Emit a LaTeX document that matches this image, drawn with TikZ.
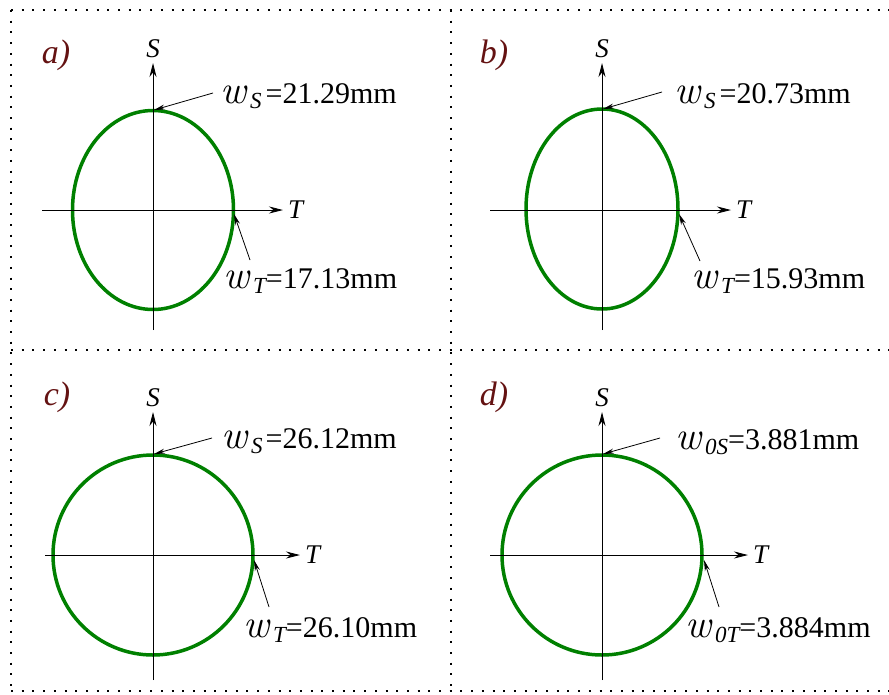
\documentclass[tikz,border=0pt]{standalone}
\usepackage{fontspec}
\setmainfont{Liberation Serif}
\usetikzlibrary{arrows.meta, positioning, calc}
\definecolor{beamgreen}{RGB}{0,128,0}
\definecolor{tagred}{RGB}{100,18,18}

\begin{document}
\begin{tikzpicture}[x=1pt, y=-1pt,
  % ---- styles ----
  frame/.style = {line width=2pt, dash pattern=on 2pt off 8.7pt},
  axis/.style = {-{Stealth[length=14pt, width=7pt]}, line width=0.9pt},
  pointer/.style = {-{Stealth[length=11pt, width=5pt]}, line width=0.8pt},
  beam/.style = {draw=beamgreen, line width=3.5pt},
  axislabel/.style = {font=\fontsize{27}{27}\selectfont\itshape, inner sep=2pt},
  tag/.style = {font=\fontsize{34}{34}\selectfont\itshape, text=tagred},
  value/.style = {font=\fontsize{30}{30}\selectfont, inner sep=0pt, anchor=base west}
]
\useasboundingbox (0,0) rectangle (889,694);

% ============ FRAME ============
\draw[frame] (11,10) -- (889,10);
\draw[frame] (11,10) -- (11,691);
\draw[frame] (11,691) -- (889,691);
\draw[frame] (451,10) -- (451,691);
\draw[frame] (11,350) -- (889,350);

% ============ PANEL A ============
\coordinate (a-o) at (153,210);
\draw[beam] (a-o) ellipse [x radius=80.5pt, y radius=99.5pt];
\coordinate (a-bot) at ($(a-o)+(0,120)$);
\coordinate (a-top) at ($(a-o)+(0,-147)$);
\coordinate (a-left) at ($(a-o)+(-111,0)$);
\coordinate (a-right) at ($(a-o)+(130,0)$);
\draw[axis] (a-bot) -- (a-top);
\draw[axis] (a-left) -- (a-right);
\node[axislabel, above=3pt of a-top] (a-S) {S};
\node[axislabel, right=3pt of a-right] (a-T) {T};
\node[tag] (a-tag) at (56,55) {a)};

% w_S and w_T
\coordinate (a-ws) at ($(a-o)+(1,-100)$);
\coordinate (a-wt) at ($(a-o)+(81,4)$);
\node[value] (a-wS) at (220,103) {{\fontfamily{lmr}\fontsize{40}{40}\selectfont\itshape w}\kern4pt\raisebox{-5pt}{\fontsize{23}{23}\selectfont\itshape S}\kern4pt=21.29mm};
\node[value] (a-wT) at (223,288) {{\fontfamily{lmr}\fontsize{40}{40}\selectfont\itshape w}\kern4pt\raisebox{-5pt}{\fontsize{23}{23}\selectfont\itshape T}=17.13mm};
\coordinate (a-wS-tail) at (213,93);
\coordinate (a-wT-tail) at (250,260);
\draw[pointer] (a-wS-tail) -- (a-ws);
\draw[pointer] (a-wT-tail) -- (a-wt);

% ============ PANEL B ============
\coordinate (b-o) at (602,209);
\draw[beam] (b-o) ellipse [x radius=76pt, y radius=100pt];
\coordinate (b-bot) at ($(b-o)+(0,121)$);
\coordinate (b-top) at ($(b-o)+(0,-146)$);
\coordinate (b-left) at ($(b-o)+(-112,1)$);
\coordinate (b-right) at ($(b-o)+(129,1)$);
\draw[axis] (b-bot) -- (b-top);
\draw[axis] (b-left) -- (b-right);
\node[axislabel, above=3pt of b-top] (b-S) {S};
\node[axislabel, right=3pt of b-right] (b-T) {T};
\node[tag] (b-tag) at (494,55) {b)};

% w_S and w_T
\coordinate (b-ws) at ($(b-o)+(1,-100)$);
\coordinate (b-wt) at ($(b-o)+(77,5)$);
\node[value] (b-wS) at (674,103) {{\fontfamily{lmr}\fontsize{40}{40}\selectfont\itshape w}\kern4pt\raisebox{-5pt}{\fontsize{23}{23}\selectfont\itshape S}\kern4pt=20.73mm};
\node[value] (b-wT) at (691,288) {{\fontfamily{lmr}\fontsize{40}{40}\selectfont\itshape w}\kern4pt\raisebox{-5pt}{\fontsize{23}{23}\selectfont\itshape T}=15.93mm};
\coordinate (b-wS-tail) at (662,92);
\coordinate (b-wT-tail) at (700,261);
\draw[pointer] (b-wS-tail) -- (b-ws);
\draw[pointer] (b-wT-tail) -- (b-wt);

% ============ PANEL C ============
\coordinate (c-o) at (153,555);
\draw[beam] (c-o) circle [radius=100pt];
\coordinate (c-bot) at ($(c-o)+(0,125)$);
\coordinate (c-top) at ($(c-o)+(0,-143)$);
\coordinate (c-left) at ($(c-o)+(-108,0)$);
\coordinate (c-right) at ($(c-o)+(147,0)$);
\draw[axis] (c-bot) -- (c-top);
\draw[axis] (c-left) -- (c-right);
\node[axislabel, above=3pt of c-top] (c-S) {S};
\node[axislabel, right=3pt of c-right] (c-T) {T};
\node[tag] (c-tag) at (57,397) {c)};

% w_S and w_T
\coordinate (c-ws) at ($(c-o)+(1,-101)$);
\coordinate (c-wt) at ($(c-o)+(101,5)$);
\node[value] (c-wS) at (221,448) {{\fontfamily{lmr}\fontsize{40}{40}\selectfont\itshape w}\kern4pt\raisebox{-5pt}{\fontsize{23}{23}\selectfont\itshape S}\kern3pt=26.12mm};
\node[value] (c-wT) at (243,637) {{\fontfamily{lmr}\fontsize{40}{40}\selectfont\itshape w}\kern4pt\raisebox{-5pt}{\fontsize{23}{23}\selectfont\itshape T}=26.10mm};
\coordinate (c-wS-tail) at (212,438);
\coordinate (c-wT-tail) at (269,607);
\draw[pointer] (c-wS-tail) -- (c-ws);
\draw[pointer] (c-wT-tail) -- (c-wt);

% ============ PANEL D ============
\coordinate (d-o) at (602,555);
\draw[beam] (d-o) circle [radius=100pt];
\coordinate (d-bot) at ($(d-o)+(0,125)$);
\coordinate (d-top) at ($(d-o)+(0,-143)$);
\coordinate (d-left) at ($(d-o)+(-112,0)$);
\coordinate (d-right) at ($(d-o)+(146,0)$);
\draw[axis] (d-bot) -- (d-top);
\draw[axis] (d-left) -- (d-right);
\node[axislabel, above=3pt of d-top] (d-S) {S};
\node[axislabel, right=3pt of d-right] (d-T) {T};
\node[tag] (d-tag) at (494,397) {d)};

% w_0S and w_0T
\coordinate (d-ws) at ($(d-o)+(1,-101)$);
\coordinate (d-wt) at ($(d-o)+(102,5)$);
\node[value] (d-wS) at (675,449) {{\fontfamily{lmr}\fontsize{40}{40}\selectfont\itshape w}\kern4pt\raisebox{-5pt}{\fontsize{23}{23}\selectfont\itshape 0S}=3.881mm};
\node[value] (d-wT) at (685,637) {{\fontfamily{lmr}\fontsize{40}{40}\selectfont\itshape w}\kern4pt\raisebox{-5pt}{\fontsize{23}{23}\selectfont\itshape 0T}=3.884mm};
\coordinate (d-wS-tail) at (660,438);
\coordinate (d-wT-tail) at (719,607);
\draw[pointer] (d-wS-tail) -- (d-ws);
\draw[pointer] (d-wT-tail) -- (d-wt);

\end{tikzpicture}
\end{document}
